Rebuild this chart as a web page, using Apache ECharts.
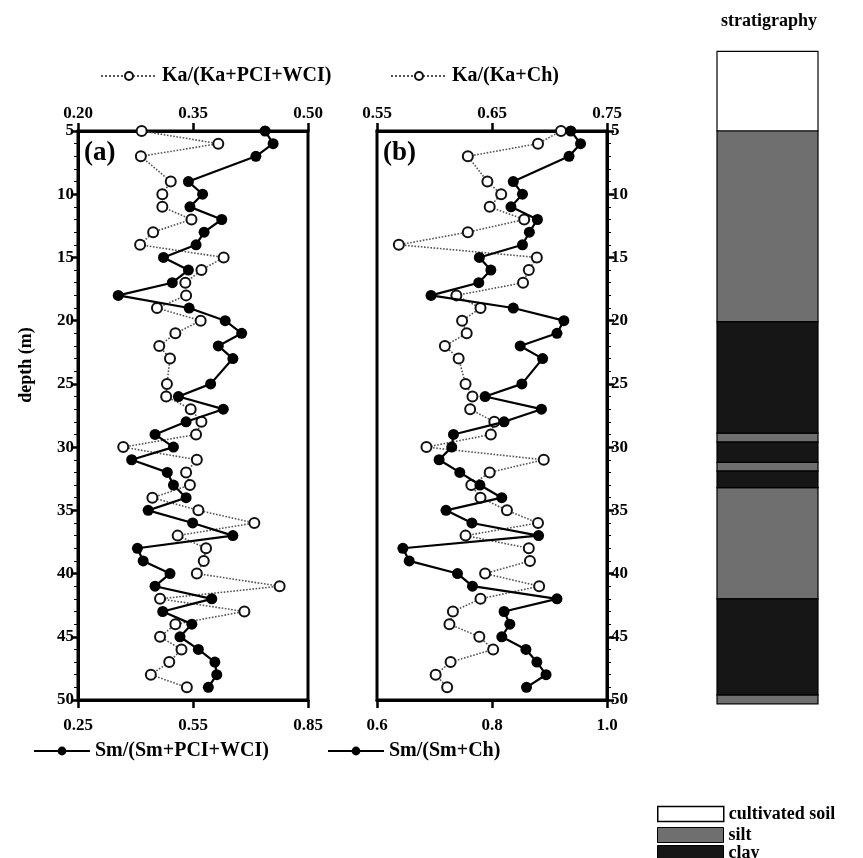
<!DOCTYPE html>
<html><head><meta charset="utf-8">
<script src="https://cdn.jsdelivr.net/npm/echarts@6.0.0/dist/echarts.min.js"></script>
<style>html,body{margin:0;padding:0;background:#fff}#c{width:863px;height:858px}</style>
</head><body><div id="c"></div>
<script>
// ---- data ----
const depths = [5,6,7,9,10,11,12,13,14,15,16,17,18,19,20,21,22,23,25,26,27,28,29,30,31,32,33,34,35,36,37,38,39,40,41,42,43,44,45,46,47,48,49];
const kaA = [0.283,0.383,0.282,0.321,0.310,0.310,0.348,0.298,0.281,0.390,0.361,0.340,0.341,0.303,0.360,0.327,0.306,0.320,0.316,0.315,0.347,0.361,0.354,0.259,0.355,0.341,0.346,0.297,0.357,0.430,0.330,0.367,0.364,0.355,0.463,0.307,0.417,0.327,0.307,0.335,0.319,0.295,0.342];
const smA = [0.738,0.759,0.714,0.538,0.575,0.542,0.625,0.579,0.558,0.473,0.538,0.496,0.355,0.540,0.634,0.677,0.616,0.654,0.596,0.512,0.629,0.532,0.451,0.499,0.390,0.483,0.499,0.532,0.433,0.549,0.654,0.405,0.420,0.490,0.451,0.599,0.471,0.547,0.516,0.564,0.607,0.612,0.590];
const kaB = [0.710,0.690,0.629,0.646,0.658,0.648,0.678,0.629,0.569,0.689,0.682,0.677,0.619,0.640,0.624,0.628,0.609,0.621,0.627,0.633,0.631,0.652,0.649,0.593,0.695,0.648,0.632,0.640,0.663,0.690,0.627,0.682,0.683,0.644,0.691,0.640,0.616,0.613,0.639,0.651,0.614,0.601,0.611];
const smB = [0.937,0.954,0.934,0.837,0.853,0.833,0.879,0.865,0.853,0.778,0.798,0.777,0.694,0.837,0.925,0.913,0.849,0.888,0.852,0.788,0.886,0.821,0.733,0.730,0.708,0.744,0.779,0.817,0.720,0.765,0.881,0.645,0.656,0.740,0.766,0.913,0.821,0.831,0.817,0.859,0.878,0.894,0.860];
const topTicksA = [0.20,0.35,0.50];
const botTicksA = [0.25,0.55,0.85];
const topTicksB = [0.55,0.65,0.75];
const botTicksB = [0.6,0.8,1.0];
const depthRange = [5,50];
const strataNames = ['cultivated soil','silt','clay'];
const strataTop    = [-1.3, 5.0, 20.1, 28.9, 29.6, 31.2, 31.9, 33.2, 42.0, 49.6];
const strataBottom = [ 5.0,20.1, 28.9, 29.6, 31.2, 31.9, 33.2, 42.0, 49.6, 50.3];
const strataType   = [0,1,2,1,2,1,2,1,2,1];

// ---- styling ----
const FONT = 'Liberation Serif';
const strataColors = ['#ffffff','#6f6f6f','#161616'];
const L = {a:78, b:377}, W = 230, TOP = 131, BOTTOM = 858-700;
const pair = (xs) => xs.map((v,i)=>[v, depths[i]]);

function xAx(grid, pos, vals, min, max, dec){
  return {type:'value', gridIndex:grid, position:pos, min:min, max:max,
    axisLine:{show:true, onZero:false, lineStyle:{color:'#000', width:3}},
    axisTick:{show:true, inside:false, length:8, lineStyle:{color:'#000', width:2.5}, customValues: vals},
    axisLabel:{show:true, customValues: vals, margin: pos==='top'?9:17, color:'#000', fontFamily:FONT, fontWeight:'bold', fontSize:17,
      formatter:(v)=>v.toFixed(dec)},
    splitLine:{show:false}};
}
function yAx(grid, pos, showLabel){
  return {type:'value', gridIndex:grid, position:pos, inverse:true, min:depthRange[0], max:depthRange[1], interval:5,
    axisLine:{show:true, onZero:false, lineStyle:{color:'#000', width:3}},
    axisTick:{show:true, length:7, lineStyle:{color:'#000', width:2.5}},
    minorTick:{show:true, splitNumber:5, length:4, lineStyle:{color:'#000', width:1}},
    axisLabel:{show:showLabel, margin:4, color:'#000', fontFamily:FONT, fontWeight:'bold', fontSize:17},
    splitLine:{show:false}};
}
const openSym = {type:'line', symbol:'emptyCircle', symbolSize:10, showAllSymbol:true,
  lineStyle:{color:'#555', width:1.6, type:'dotted'}, itemStyle:{color:'#111', borderWidth:1.6}};
const fillSym = {type:'line', symbol:'circle', symbolSize:11, showAllSymbol:true,
  lineStyle:{color:'#000', width:2.2}, itemStyle:{color:'#000'}};

function stratSeries(t){
  const data = [];
  strataType.forEach((ty,i)=>{ if(ty===t) data.push([strataTop[i], strataBottom[i]]); });
  return {type:'custom', name:strataNames[t], xAxisIndex:4, yAxisIndex:2, data:data,
    itemStyle:{color:strataColors[t]},
    renderItem:(params, api)=>{
      const p0 = api.coord([0, api.value(0)]), p1 = api.coord([1, api.value(1)]);
      return {type:'rect', shape:{x:p0[0], y:p0[1], width:p1[0]-p0[0], height:p1[1]-p0[1]},
        style:{fill:strataColors[t], stroke:'#000', lineWidth:1.2}};
    }};
}

const legText = {fontFamily:FONT, fontWeight:'bold', fontSize:20, color:'#000'};
const stratLeg = (t, top) => ({
  data:[{name:strataNames[t], icon:'rect', itemStyle:{color:strataColors[t], borderColor:'#000', borderWidth:t===0?1.5:1}}],
  left:657, top:top, itemWidth:66, itemHeight:15, padding:0,
  textStyle:{fontFamily:FONT, fontWeight:'bold', fontSize:18, color:'#000'}});
const option = {
  backgroundColor:'#ffffff',
  animation:false,
  grid:[
    {left:L.a, width:W, top:TOP, bottom:BOTTOM, show:true, borderColor:'#000', borderWidth:3},
    {left:L.b, width:W, top:TOP, bottom:BOTTOM, show:true, borderColor:'#000', borderWidth:3},
    {left:717, width:101, top:TOP + (strataTop[0]-5)*569/45, bottom:BOTTOM - (strataBottom[strataBottom.length-1]-50)*569/45}
  ],
  xAxis:[
    xAx(0,'top',topTicksA,0.20,0.50,2),
    xAx(0,'bottom',botTicksA,0.25,0.85,2),
    xAx(1,'top',topTicksB,0.55,0.75,2),
    xAx(1,'bottom',botTicksB,0.6,1.0,1),
    {type:'value', gridIndex:2, min:0, max:1, show:false}
  ],
  yAxis:[
    yAx(0,'left',true),
    yAx(1,'right',true),
    {type:'value', gridIndex:2, inverse:true, min:strataTop[0], max:strataBottom[strataBottom.length-1], show:false}
  ],
  legend:[
    {data:['Ka/(Ka+PCI+WCI)'], left:95, top:61, itemWidth:56, itemHeight:10, textStyle:legText},
    {data:['Ka/(Ka+Ch)'], left:385, top:61, itemWidth:56, itemHeight:10, textStyle:legText},
    {data:['Sm/(Sm+PCI+WCI)'], left:28, top:736, itemWidth:56, itemHeight:11, textStyle:legText},
    {data:['Sm/(Sm+Ch)'], left:322, top:736, itemWidth:56, itemHeight:11, textStyle:legText},
    stratLeg(0, 805), stratLeg(1, 826), stratLeg(2, 844)
  ],
  graphic:[
    {type:'text', left:84, top:140, style:{text:'(a)', font:'bold 27px "Liberation Serif"', fill:'#000'}},
    {type:'text', left:383, top:140, style:{text:'(b)', font:'bold 27px "Liberation Serif"', fill:'#000'}},
    {type:'text', left:721, top:12, style:{text:'stratigraphy', font:'bold 18px "Liberation Serif"', fill:'#000'}},
    {type:'text', x:26, y:365, rotation:Math.PI/2, style:{text:'depth (m)', font:'bold 18px "Liberation Serif"', fill:'#000', align:'center', verticalAlign:'middle'}}
  ],
  series:[
    Object.assign({}, openSym, {name:'Ka/(Ka+PCI+WCI)', xAxisIndex:0, yAxisIndex:0, data:pair(kaA), z:3}),
    Object.assign({}, fillSym, {name:'Sm/(Sm+PCI+WCI)', xAxisIndex:1, yAxisIndex:0, data:pair(smA), z:4}),
    Object.assign({}, openSym, {name:'Ka/(Ka+Ch)', xAxisIndex:2, yAxisIndex:1, data:pair(kaB), z:3}),
    Object.assign({}, fillSym, {name:'Sm/(Sm+Ch)', xAxisIndex:3, yAxisIndex:1, data:pair(smB), z:4}),
    stratSeries(0), stratSeries(1), stratSeries(2)
  ]
};
const chart = echarts.init(document.getElementById('c'), null, {renderer:'canvas'});
chart.setOption(option);
</script></body></html>
